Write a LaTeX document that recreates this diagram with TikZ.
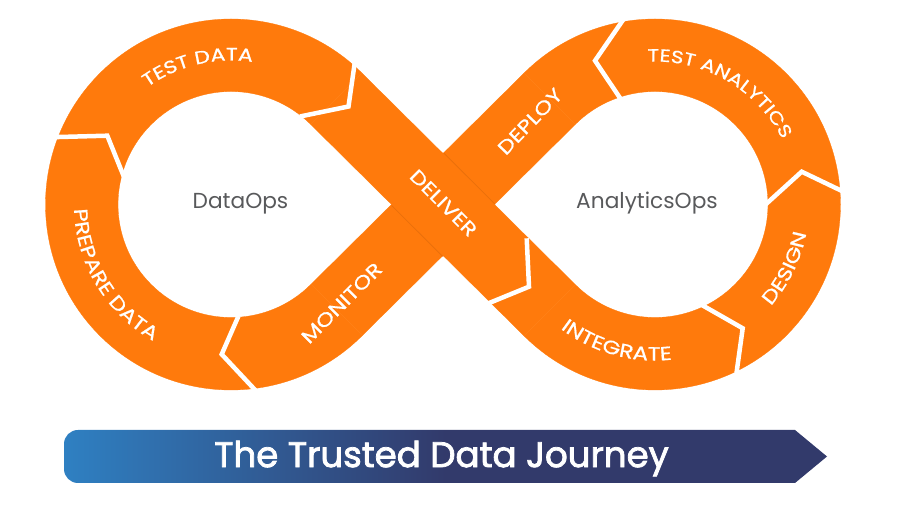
\documentclass[tikz,border=0pt]{standalone}
\usepackage{fontspec}
\setmainfont{Poppins}
\newfontfamily\stepfont[FakeStretch=1.22,FakeBold=.8]{Poppins}
\newfontfamily\titlefont[FakeBold=2.2]{Poppins}
\usetikzlibrary{decorations.text}
\definecolor{bandorange}{HTML}{FF7A0C}
\definecolor{bandshade}{HTML}{C9600A}
\definecolor{opsgray}{HTML}{58595B}
\definecolor{journeyblue}{HTML}{2F80C2}
\definecolor{journeynavy}{HTML}{323A6B}
\tikzset{
	band/.style={fill=bandorange,draw=bandorange,line width=.3pt},
	cut/.style={draw=white,line width=4.5pt,miter limit=10},
	fold/.style={draw=bandshade,line width=3.5pt,opacity=.4},
	steptext/.style={text=white,font=\stepfont\fontsize{19}{19}\selectfont},
	opstext/.style={text=opsgray,font=\fontsize{21.7}{21.7}\selectfont},
	curvetext/.style 2 args={decorate,decoration={text along path,text align=center,
		text={|\stepfont\fontsize{#1}{#1}\selectfont\color{white}|#2}}}
}
\begin{document}
\begin{tikzpicture}[x=1pt,y=1pt]
	\useasboundingbox (0,0) rectangle (900,511);
	% left loop
	\begin{scope}[shift={(231,306.5)}]
		\fill[band] (45:185.5) arc (45:315:185.5) -- (315:113) arc (315:45:113) -- cycle;
		\coordinate (lo1) at (45:185.5);
		\coordinate (li1) at (45:113);
		\coordinate (lo2) at (315:185.5);
		\coordinate (li2) at (315:113);
		\path[curvetext={18}{TEST DATA}] (140:144) arc (140:67:144);
		\path[curvetext={19}{PREPARE DATA}] (165:157) arc (165:257:157);
	\end{scope}
	% right loop
	\begin{scope}[shift={(655,306.5)}]
		\fill[band] (135:185.5) arc (135:-135:185.5) -- (-135:113) arc (-135:135:113) -- cycle;
		\coordinate (ro1) at (135:185.5);
		\coordinate (ri1) at (135:113);
		\coordinate (ro2) at (225:185.5);
		\coordinate (ri2) at (225:113);
		\path[curvetext={17.6}{TEST ANALYTICS}] (108:143) arc (108:12:143);
		\path[curvetext={19}{INTEGRATE}] (220:156) arc (220:289:156);
		\path[curvetext={19}{DESIGN}] (-55:154) arc (-55:3:154);
	\end{scope}
	% the two crossing bands
	\fill[band] (lo2) -- (ri1) -- (ro1) -- (li2) -- cycle;
	\draw[fold] (443,357) -- (494.5,305.5);
	\draw[fold] (392.5,306.5) -- (444,255);
	\fill[band] (lo1) -- (ri2) -- (ro2) -- (li1) -- cycle;
	% cuts between the steps
	\draw[cut] (355,450) -- (348.5,404.5) -- (300,394.5);
	\draw[cut] (52,373.8) -- (107.3,375.3) -- (124,334);
	\draw[cut] (238.5,195) -- (221.7,156.7) -- (257,119);
	\draw[cut] (623,491) -- (595,450.3) -- (620,413);
	\draw[cut] (843,319.5) -- (801.7,339.3) -- (765,306);
	\draw[cut] (701,206.5) -- (742.7,182.7) -- (736.5,138);
	\draw[cut] (526.7,272.7) -- (529,224.3) -- (488,207.5);
	% straight labels
	\node[steptext,rotate=46] (deploy) at (530,389.5) {DEPLOY};
	\node[steptext,rotate=45] (monitor) at (341.7,208) {MONITOR};
	\node[steptext,rotate=-45] (deliver) at (443.5,308) {DELIVER};
	\node[opstext] (dataops) at (240.5,307) {DataOps};
	\node[opstext] (analyticsops) at (647,307.5) {AnalyticsOps};
	% journey arrow
	\path[left color=journeyblue,right color=journeynavy,middle color=journeynavy]
		(795,81) -- (827,54.5) -- (795,28) -- (78,28) arc (270:180:14) -- (64,67) arc (180:90:14) -- cycle;
	\node[text=white,font=\titlefont\fontsize{35.6}{35.6}\selectfont] (journey) at (441.5,52.5) {The Trusted Data Journey};
\end{tikzpicture}
\end{document}
